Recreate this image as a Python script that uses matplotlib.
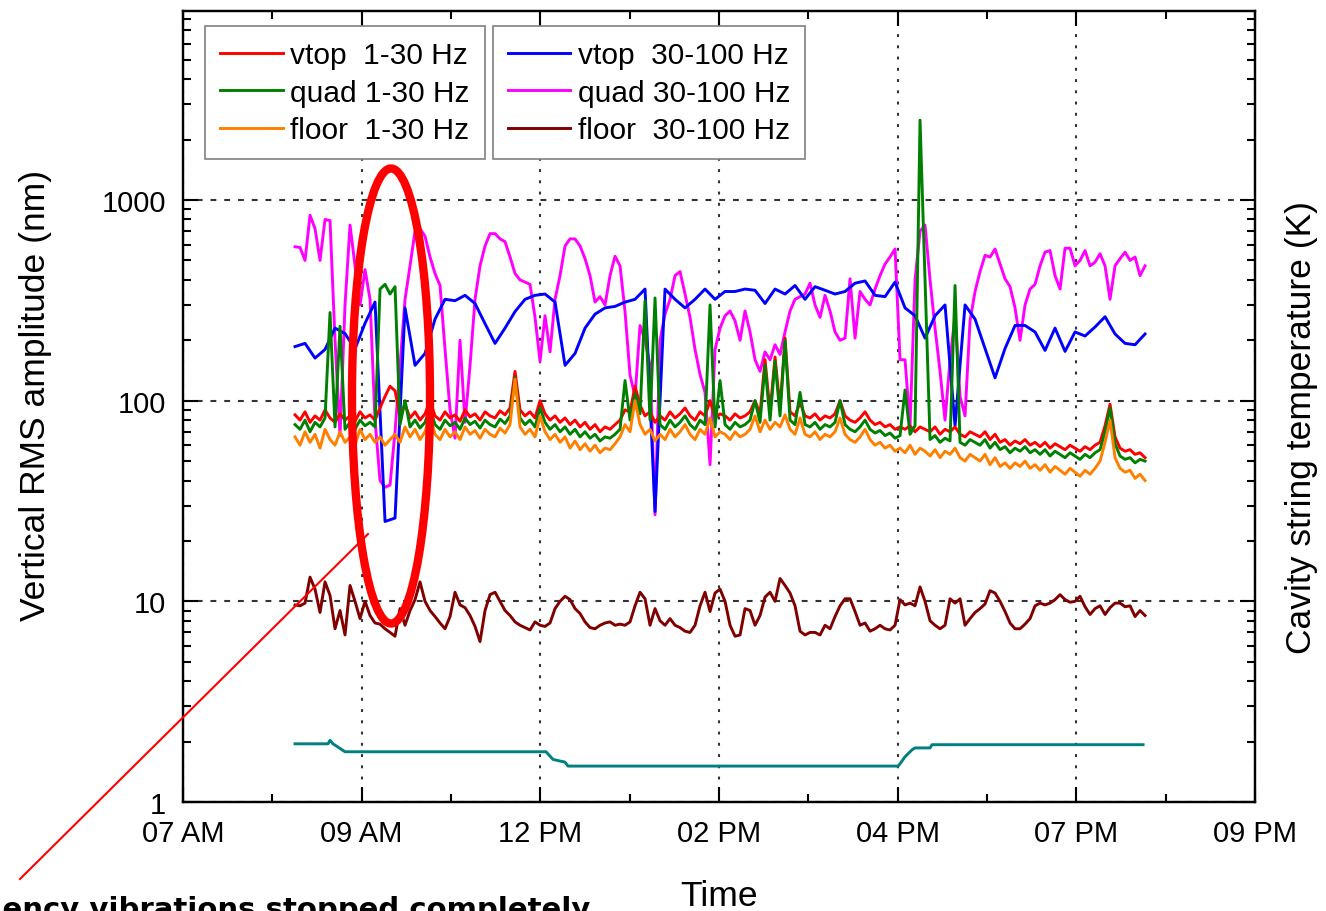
import numpy as np
import matplotlib
matplotlib.use("Agg")
import matplotlib.pyplot as plt
from matplotlib.patches import Ellipse
from matplotlib.lines import Line2D
from matplotlib.ticker import FixedLocator, NullFormatter, LogLocator

plt.rcParams["font.family"] = ["Liberation Sans", "DejaVu Sans"]

# time axis: hours of the day, samples from 08:28 to 19:34
T_START, T_END = 8.463, 19.564
TICK_POS = [7 + 7 / 3 * i for i in range(7)]
TICK_LABELS = ["07 AM", "09 AM", "12 PM", "02 PM", "04 PM", "07 PM", "09 PM"]

# vertical RMS amplitude (nm), 1-30 Hz band
vtop_low = [
    85, 80, 88, 78, 84, 80, 90, 82, 78, 86,
    80, 84, 79, 88, 82, 85, 80, 92, 105, 118,
    112, 84, 96, 82, 88, 80, 86, 100, 84, 80,
    88, 82, 85, 79, 90, 83, 86, 80, 88, 84,
    82, 89, 85, 92, 140, 90, 84, 88, 82, 100,
    86, 80, 84, 78, 82, 76, 80, 74, 78, 72,
    76, 70, 74, 72, 76, 80, 90, 88, 118, 95,
    84, 88, 78, 84, 80, 88, 82, 86, 92, 84,
    80, 88, 84, 100, 82, 86, 84, 80, 86, 82,
    84, 88, 100, 86, 160, 88, 165, 92, 205, 88,
    84, 98, 84, 82, 86, 80, 84, 82, 86, 100,
    84, 80, 78, 82, 88, 80, 76, 78, 74, 76,
    72, 74, 72, 75, 70, 74, 72, 70, 74, 68,
    72, 70, 74, 68, 66, 70, 68, 66, 70, 64,
    68, 62, 64, 60, 63, 61, 64, 60, 62, 59,
    62, 58, 61, 59, 57, 60, 58, 56, 59, 57,
    60, 62, 75, 96, 66, 58, 56, 57, 54, 55,
    52,
]
quad_low = [
    76, 72, 80, 70, 78, 74, 82, 275, 74, 235,
    72, 78, 72, 80, 75, 78, 74, 360, 380, 340,
    370, 76, 100, 74, 80, 73, 78, 92, 76, 72,
    80, 75, 78, 72, 82, 76, 79, 73, 80, 76,
    74, 81, 77, 84, 130, 82, 76, 80, 74, 92,
    78, 72, 76, 70, 74, 68, 72, 66, 70, 65,
    68, 63, 66, 65, 68, 72, 126, 80, 108, 86,
    315, 80, 325, 76, 72, 80, 74, 78, 84, 76,
    72, 80, 76, 300, 74, 126, 76, 72, 78, 74,
    76, 80, 100, 78, 150, 80, 157, 84, 200, 80,
    76, 110, 76, 74, 78, 72, 76, 74, 78, 100,
    76, 72, 70, 74, 80, 72, 69, 71, 67, 69,
    65, 67, 113, 68, 75, 2500, 400, 64, 67, 62,
    65, 63, 375, 62, 60, 64, 62, 60, 64, 58,
    62, 57, 59, 55, 58, 56, 59, 55, 57, 54,
    57, 53, 56, 54, 52, 55, 53, 51, 54, 52,
    55, 57, 70, 92, 61, 53, 51, 52, 49, 51,
    50,
]
floor_low = [
    66, 60, 70, 62, 68, 58, 72, 64, 60, 70,
    62, 66, 60, 72, 64, 68, 62, 66, 60, 64,
    68, 62, 74, 66, 72, 64, 70, 84, 68, 64,
    72, 66, 70, 64, 74, 68, 71, 65, 72, 68,
    66, 73, 69, 76, 128, 74, 68, 72, 66, 84,
    70, 64, 68, 62, 66, 58, 63, 57, 61, 56,
    60, 55, 58, 57, 61, 66, 76, 70, 100, 76,
    68, 72, 63, 68, 64, 72, 66, 70, 76, 68,
    64, 72, 68, 82, 66, 70, 68, 64, 70, 66,
    68, 72, 84, 70, 80, 72, 78, 74, 85, 72,
    68, 82, 68, 66, 70, 64, 68, 66, 70, 82,
    68, 64, 62, 66, 72, 64, 60, 62, 58, 60,
    56, 58, 55, 60, 54, 58, 56, 53, 57, 52,
    56, 54, 58, 52, 50, 54, 52, 50, 54, 48,
    52, 47, 49, 46, 49, 47, 50, 46, 48, 45,
    48, 44, 47, 45, 43, 46, 44, 42, 45, 43,
    46, 50, 62, 80, 52, 46, 44, 45, 41, 43,
    40,
]

# 30-100 Hz band
vtop_high = [
    186, 193, 163, 180, 230, 216, 181, 243, 310, 25,
    26, 290, 150, 172, 255, 320, 315, 335, 305, 242,
    193, 230, 278, 320, 335, 340, 310, 150, 172, 230,
    270, 290, 295, 310, 320, 360, 28, 360, 320, 290,
    320, 360, 320, 350, 350, 360, 355, 305, 360, 340,
    375, 320, 370, 355, 340, 350, 385, 395, 335, 330,
    390, 290, 265, 205, 265, 300, 75, 300, 255, 182,
    130, 182, 237, 237, 220, 178, 230, 176, 220, 210,
    233, 262, 215, 193, 190, 215,
]
quad_high = [
    585, 580, 500, 840, 720, 500, 800, 790, 200, 67,
    300, 750, 470, 300, 450, 320, 80, 40, 37, 38,
    70, 150, 320, 470, 700, 720, 660, 520, 430, 375,
    180, 90, 65, 200, 78, 150, 320, 470, 590, 680,
    680, 640, 620, 520, 430, 400, 390, 380, 260, 157,
    265, 175, 320, 420, 590, 640, 640, 590, 510, 420,
    310, 330, 300, 420, 525, 470, 278, 134, 105, 237,
    200, 150, 27, 200, 270, 320, 420, 440, 340, 260,
    180, 135, 110, 48, 180, 230, 265, 280, 250, 200,
    280, 220, 160, 140, 175, 160, 190, 170, 220, 280,
    320, 330, 340, 385, 300, 260, 335, 280, 220, 200,
    205, 405, 205, 350, 320, 300, 360, 420, 480, 520,
    570, 160, 160, 75, 400, 700, 750, 400, 230, 140,
    80, 160, 265, 105, 84, 250, 350, 440, 530, 520,
    570, 480, 405, 370, 290, 200, 300, 360, 380, 470,
    550, 560, 420, 360, 575, 575, 470, 500, 560, 470,
    490, 540, 470, 320, 470, 510, 550, 500, 520, 420,
    470,
]
floor_high = [
    9.6, 9.5, 9.8, 13.2, 11.5, 8.8, 12.5, 10.7, 7.3, 9.0,
    6.8, 12.0, 10.0, 8.2, 10.0, 8.5, 7.8, 7.7, 7.3, 7.0,
    6.7, 9.2, 7.6, 9.0, 10.2, 12.5, 10.0, 9.0, 8.4, 7.8,
    7.3, 8.4, 11.1, 9.6, 9.3, 8.5, 7.5, 6.3, 9.0, 10.8,
    11.1, 10.0, 9.0, 8.5, 7.9, 7.6, 7.4, 7.2, 7.9, 7.6,
    7.5, 7.8, 9.2, 10.0, 10.6, 10.2, 9.2, 8.7, 7.9, 7.4,
    7.3, 7.6, 7.8, 7.9, 7.6, 7.7, 7.6, 7.9, 9.5, 11.1,
    10.3, 7.6, 9.2, 8.0, 7.6, 8.2, 7.6, 7.4, 7.1, 7.0,
    7.6, 9.5, 11.1, 8.9, 11.0, 11.5, 10.0, 7.6, 6.7, 6.8,
    9.2, 9.0, 7.6, 8.5, 10.5, 11.1, 10.0, 13.0, 12.0, 11.0,
    9.5, 7.1, 6.8, 7.0, 7.0, 6.8, 7.6, 7.3, 8.4, 9.5,
    10.3, 10.3, 8.9, 7.6, 7.8, 7.1, 7.3, 7.6, 7.3, 7.2,
    7.6, 10.2, 9.6, 9.8, 9.5, 11.8, 10.0, 8.0, 7.6, 7.3,
    7.6, 10.3, 9.8, 10.3, 7.6, 8.2, 8.8, 9.2, 9.7, 11.3,
    11.0, 10.0, 8.9, 7.8, 7.3, 7.3, 7.7, 8.2, 9.5, 9.8,
    9.6, 9.8, 10.2, 10.8, 10.2, 9.9, 10.0, 10.6, 9.4, 8.6,
    9.2, 9.5, 8.6, 9.3, 9.8, 9.8, 9.4, 9.5, 8.4, 9.0,
    8.5,
]

# cavity string temperature (K)
temp_time = [8.463, 8.894, 8.920, 8.959, 9.116, 11.741, 11.832, 11.989, 12.028,
             16.338, 16.364, 16.429, 16.521, 16.560, 16.756, 16.782, 19.538]
temp_val = [1.95, 1.95, 2.03, 1.95, 1.78, 1.78, 1.63, 1.58, 1.51,
            1.51, 1.55, 1.68, 1.82, 1.86, 1.86, 1.93, 1.93]

LW = 2.1
fig = plt.figure(figsize=(13.26, 9.12), dpi=100)
ax = fig.add_axes([183 / 1326, 1 - 803 / 912, 1072 / 1326, 791 / 912])


def t(vals):
    return np.linspace(T_START, T_END, len(vals))


h_qh, = ax.plot(t(quad_high), quad_high, color="#ff00ff", lw=LW)
h_vh, = ax.plot(t(vtop_high), vtop_high, color="#0000ff", lw=LW)
h_vl, = ax.plot(t(vtop_low), vtop_low, color="#ff0000", lw=LW)
h_ql, = ax.plot(t(quad_low), quad_low, color="#008000", lw=LW)
h_fl, = ax.plot(t(floor_low), floor_low, color="#ff8000", lw=LW)
h_fh, = ax.plot(t(floor_high), floor_high, color="#800000", lw=LW)

ax.set_yscale("log")
ax.set_ylim(1, 8750)
ax.set_xlim(7, 21)

ax.xaxis.set_major_locator(FixedLocator(TICK_POS))
ax.set_xticklabels(TICK_LABELS)
ax.xaxis.set_minor_locator(FixedLocator([p + 7 / 6 for p in TICK_POS[:-1]]))
ax.yaxis.set_major_locator(FixedLocator([1, 10, 100, 1000]))
ax.set_yticklabels(["1", "10", "100", "1000"])
ax.yaxis.set_minor_locator(LogLocator(base=10, subs=np.arange(2, 10)))
ax.yaxis.set_minor_formatter(NullFormatter())

ax.tick_params(which="both", direction="in", top=True, right=False,
               labelsize=21, width=1.5)
ax.tick_params(which="major", length=11, pad=12)
ax.tick_params(which="minor", length=6)

ax.xaxis.grid(True, which="major", ls=(0, (1.4, 4)), color="#333333", lw=1.5)
ax.yaxis.grid(True, which="major", ls=(0, (2.8, 3.8)), color="#333333", lw=1.5)
for s in ax.spines.values():
    s.set_linewidth(1.6)

ax.set_ylabel("Vertical RMS amplitude (nm)", fontsize=25.5)
ax.yaxis.set_label_coords(-0.122, 0.515)
ax.set_xlabel("Time", fontsize=25.5)
ax.xaxis.set_label_coords(0.5, -0.097)

# temperature on the right-hand axis
ax2 = ax.twinx()
ax2.plot(temp_time, temp_val, color="#008080", lw=LW)
ax2.set_yscale("log")
ax2.set_ylim(1, 8750)
ax2.yaxis.set_major_locator(FixedLocator([1, 10, 100, 1000]))
ax2.yaxis.set_minor_locator(LogLocator(base=10, subs=np.arange(2, 10)))
ax2.yaxis.set_major_formatter(NullFormatter())
ax2.yaxis.set_minor_formatter(NullFormatter())
ax2.tick_params(which="both", direction="in", width=1.5)
ax2.tick_params(which="major", length=11)
ax2.tick_params(which="minor", length=6)
ax2.set_ylabel("Cavity string temperature (K)", fontsize=25.5)
ax2.yaxis.set_label_coords(1.028, 0.475)
for s in ax2.spines.values():
    s.set_linewidth(1.6)

leg_kw = dict(fontsize=21.5, frameon=True, fancybox=False, edgecolor="#808080",
              framealpha=1, handlelength=2.1, handletextpad=0.25,
              labelspacing=0.32, borderpad=0.5, borderaxespad=0,
              loc="upper left")
leg1 = ax2.legend([h_vl, h_ql, h_fl],
                  ["vtop  1-30 Hz", "quad 1-30 Hz", "floor  1-30 Hz"],
                  bbox_to_anchor=(0.0205, 0.981), **leg_kw)
ax2.add_artist(leg1)
leg2 = ax2.legend([h_vh, h_qh, h_fh],
                  ["vtop  30-100 Hz", "quad 30-100 Hz", "floor  30-100 Hz"],
                  bbox_to_anchor=(0.289, 0.981), **leg_kw)
for lg in (leg1, leg2):
    lg.get_frame().set_linewidth(1.2)

# highlight of the drop around 09 AM
fig.add_artist(Ellipse((391 / 1326, 1 - 397 / 912), 78 / 1326, 455 / 912,
                       transform=fig.transFigure, fill=False,
                       ec="#ff0000", lw=6))
fig.add_artist(Line2D([368 / 1326, 20 / 1326], [1 - 535 / 912, 1 - 880 / 912],
                      transform=fig.transFigure, color="#ff0000", lw=1.5))
fig.text(590 / 1326, 1 - 918 / 912, "High frequency vibrations stopped completely",
         ha="right", va="baseline", fontsize=21, fontweight="bold",
         family=["DejaVu Sans"])

fig.savefig("out.png", dpi=100)
